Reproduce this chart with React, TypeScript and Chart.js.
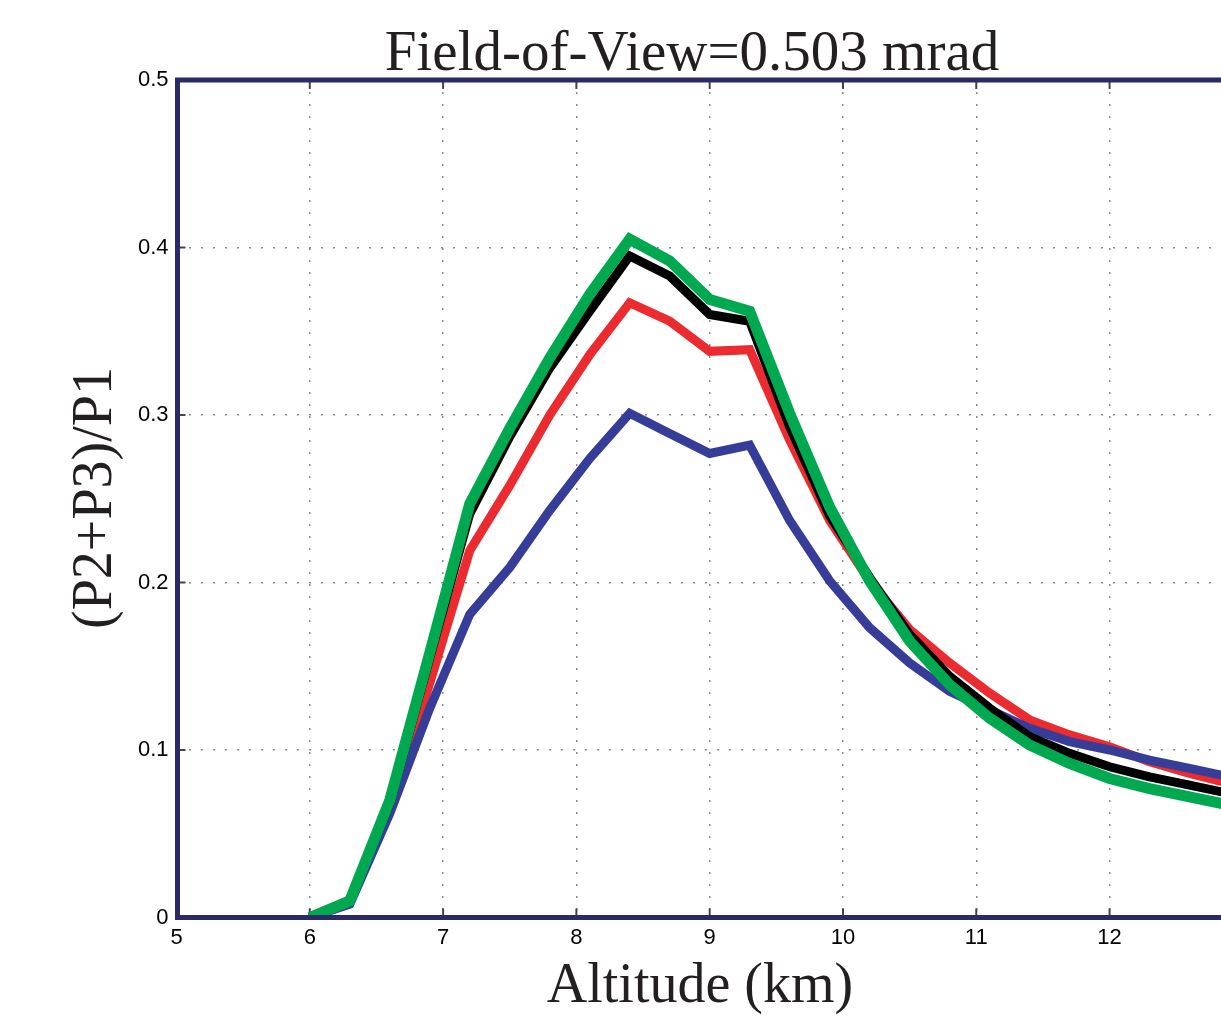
import React, { useEffect, useRef } from "react";
import { Chart, registerables } from "chart.js";

Chart.register(...registerables);

// ---- data ----
const altitudeKm = [6.0, 6.3, 6.6, 6.9, 7.2, 7.5, 7.8, 8.1, 8.4, 8.7, 9.0, 9.3, 9.6, 9.9, 10.2, 10.5, 10.8, 11.1, 11.4, 11.7, 12.0, 12.3, 12.6, 12.9];
const seriesGreen = [0, 0.010, 0.070, 0.158, 0.247, 0.292, 0.334, 0.372, 0.405, 0.392, 0.369, 0.362, 0.301, 0.245, 0.201, 0.165, 0.139, 0.119, 0.103, 0.092, 0.083, 0.077, 0.072, 0.067];
const seriesBlack = [0, 0.010, 0.068, 0.155, 0.241, 0.287, 0.328, 0.362, 0.395, 0.383, 0.360, 0.356, 0.293, 0.240, 0.203, 0.169, 0.144, 0.125, 0.108, 0.098, 0.090, 0.084, 0.079, 0.074];
const seriesRed = [0, 0.010, 0.066, 0.140, 0.219, 0.258, 0.300, 0.336, 0.367, 0.356, 0.338, 0.339, 0.285, 0.237, 0.201, 0.172, 0.152, 0.134, 0.118, 0.109, 0.102, 0.093, 0.086, 0.080];
const seriesBlue = [0, 0.008, 0.062, 0.125, 0.181, 0.209, 0.243, 0.274, 0.301, 0.289, 0.277, 0.282, 0.237, 0.201, 0.173, 0.152, 0.135, 0.124, 0.113, 0.105, 0.100, 0.094, 0.089, 0.084];

const xTickValues = [5, 6, 7, 8, 9, 10, 11, 12];
const xTickLabels = ["5", "6", "7", "8", "9", "10", "11", "12"];
const yTickValues = [0, 0.1, 0.2, 0.3, 0.4, 0.5];
const yTickLabels = ["0", "0.1", "0.2", "0.3", "0.4", "0.5"];

const titleText = "Field-of-View=0.503 mrad";
const xAxisTitle = "Altitude (km)";
const yAxisTitle = "(P2+P3)/P1";

const W = 1221;
const H = 1031;

const toPoints = (ys: number[]) => altitudeKm.map((x, i) => ({ x, y: ys[i] }));

const matlabFrame = {
  id: "matlabFrame",
  beforeDatasetsDraw(chart: any) {
    const { ctx, chartArea: a, scales } = chart;
    ctx.save();
    ctx.strokeStyle = "#444444";
    ctx.lineWidth = 2;
    ctx.beginPath();
    xTickValues.forEach((v) => {
      const px = scales.x.getPixelForValue(v);
      if (px <= a.left + 3) return;
      ctx.moveTo(px, a.bottom);
      ctx.lineTo(px, a.bottom - 9);
      ctx.moveTo(px, a.top);
      ctx.lineTo(px, a.top + 9);
    });
    yTickValues.forEach((v) => {
      const py = scales.y.getPixelForValue(v);
      ctx.moveTo(a.left, py);
      ctx.lineTo(a.left + 9, py);
    });
    ctx.stroke();
    ctx.restore();
  },
  afterDatasetsDraw(chart: any) {
    const { ctx, chartArea: a } = chart;
    ctx.save();
    ctx.strokeStyle = "#2b2a66";
    ctx.lineWidth = 5;
    ctx.lineCap = "butt";
    ctx.lineJoin = "miter";
    ctx.beginPath();
    ctx.moveTo(W + 10, a.top);
    ctx.lineTo(a.left + 1, a.top);
    ctx.lineTo(a.left + 1, a.bottom);
    ctx.lineTo(W + 10, a.bottom);
    ctx.stroke();
    ctx.restore();
  },
  afterDraw(chart: any) {
    const { ctx } = chart;
    ctx.save();
    ctx.fillStyle = "#231f20";
    ctx.font = '57px "Liberation Serif", "Times New Roman", serif';
    ctx.textAlign = "center";
    ctx.textBaseline = "alphabetic";
    ctx.fillText(titleText, 692, 70);
    ctx.font = '56px "Liberation Serif", "Times New Roman", serif';
    ctx.fillText(xAxisTitle, 700, 1002);
    ctx.translate(111, 498);
    ctx.rotate(-Math.PI / 2);
    ctx.fillText(yAxisTitle, 0, 0);
    ctx.restore();
  },
};

export default function App() {
  const canvasRef = useRef<HTMLCanvasElement | null>(null);

  useEffect(() => {
    document.body.style.margin = "0";
    const canvas = canvasRef.current;
    if (!canvas) return;
    const tickFont = { family: '"Liberation Sans", Arial, sans-serif', size: 22, lineHeight: 1.2 };
    const chart = new Chart(canvas, {
      type: "line",
      data: {
        datasets: [
          { label: "green", data: toPoints(seriesGreen), borderColor: "#00a94f", borderWidth: 11 },
          { label: "black", data: toPoints(seriesBlack), borderColor: "#000000", borderWidth: 9 },
          { label: "blue", data: toPoints(seriesBlue), borderColor: "#353d98", borderWidth: 9 },
          { label: "red", data: toPoints(seriesRed), borderColor: "#ec2b30", borderWidth: 9 },
        ].map((d) => ({
          ...d,
          pointRadius: 0,
          pointHoverRadius: 0,
          tension: 0,
          fill: false,
          borderJoinStyle: "miter" as const,
          borderCapStyle: "butt" as const,
        })),
      },
      options: {
        responsive: false,
        animation: false,
        devicePixelRatio: 1,
        events: [],
        layout: { padding: { top: 80, left: 0, right: 0, bottom: 0 } },
        plugins: {
          legend: { display: false },
          title: { display: false },
          tooltip: { enabled: false },
        },
        scales: {
          x: {
            type: "linear",
            min: 5,
            max: 12.836,
            afterBuildTicks: (s: any) => {
              s.ticks = xTickValues.map((v) => ({ value: v }));
            },
            afterFit: (s: any) => {
              s.height = H - 917.5;
            },
            ticks: {
              color: "#000000",
              font: tickFont,
              padding: 7,
              maxRotation: 0,
              autoSkip: false,
              callback: (v: any) => {
                const i = xTickValues.indexOf(Number(v));
                return i >= 0 ? xTickLabels[i] : "";
              },
            },
            grid: { color: "#8a8a8a", lineWidth: 1.5, drawTicks: false },
            border: { display: false, dash: [2, 10] },
          },
          y: {
            type: "linear",
            min: 0,
            max: 0.5,
            afterBuildTicks: (s: any) => {
              s.ticks = yTickValues.map((v) => ({ value: v }));
            },
            afterFit: (s: any) => {
              s.width = 176.5;
            },
            ticks: {
              color: "#000000",
              font: tickFont,
              padding: 8,
              autoSkip: false,
              callback: (v: any) => {
                const i = yTickValues.findIndex((t) => Math.abs(t - Number(v)) < 1e-9);
                return i >= 0 ? yTickLabels[i] : "";
              },
            },
            grid: { color: "#8a8a8a", lineWidth: 1.5, drawTicks: false },
            border: { display: false, dash: [2, 10] },
          },
        },
      } as any,
      plugins: [matlabFrame],
    });
    return () => chart.destroy();
  }, []);

  return (
    <div style={{ width: W, height: H, background: "#ffffff" }}>
      <canvas ref={canvasRef} width={W} height={H} style={{ display: "block", width: W, height: H }} />
    </div>
  );
}
